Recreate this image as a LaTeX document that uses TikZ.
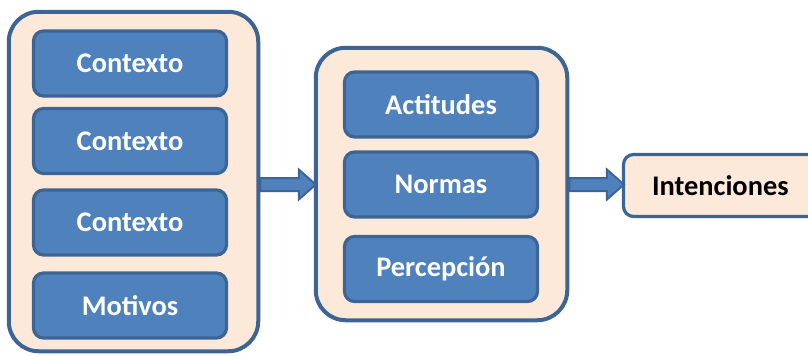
\documentclass[tikz,border=0pt]{standalone}
\usepackage{fontspec}
\setmainfont{Carlito}
\usetikzlibrary{calc}
\definecolor{boxblue}{HTML}{4F81BD}
\definecolor{boxedge}{HTML}{3C6494}
\definecolor{peach}{HTML}{FDE9DA}
\begin{document}
\begin{tikzpicture}[x=0.5pt, y=-0.5pt,
		outer/.style = {draw=boxedge, fill=peach, line width=2pt, rounded corners=15pt},
		inner/.style = {draw=boxedge, fill=boxblue, line width=1.6pt, rounded corners=5pt,
			minimum width=96.5pt, minimum height=32.5pt, text=white,
			font=\fontsize{14.2}{17}\selectfont\bfseries},
		result/.style = {draw=boxedge, fill=peach, line width=1.6pt, rounded corners=5pt,
			minimum width=102.5pt, minimum height=31pt, text=black,
			font=\fontsize{14.2}{17}\selectfont\bfseries},
		blockarrow/.style = {draw=boxedge, fill=boxblue, line width=1pt, line join=miter}]
		\pgfmathsetmacro{\shaft}{6.5}
		\pgfmathsetmacro{\head}{15}
		\pgfmathsetmacro{\headlen}{15}
		\useasboundingbox (0,0) rectangle (808,355);
		
		\node[outer, minimum width=124.75pt, minimum height=169.75pt] (left) at (133.5,181.5) {};
		\node[inner] (ctx1) at (130,63.5) {Contexto};
		\node[inner] (ctx2) at (130,141) {Contexto};
		\node[inner] (ctx3) at (130,222.5) {Contexto};
		\node[inner] (mot) at (130,305.5) {Motivos};
		
		\node[outer, minimum width=125.75pt, minimum height=136.25pt] (mid) at (441.5,184) {};
		\node[inner] (act) at (441,104.5) {Actitudes};
		\node[inner] (norm) at (441,184.5) {Normas};
		\node[inner] (perc) at (441,269) {Percepción};
		
		\node[result, text width=74pt] (int) at (726,185.5) {Intenciones};
		
		\coordinate (a1) at (left.east |- 0,184.5);
		\coordinate (b1) at (mid.west |- 0,184.5);
		\coordinate (a2) at (mid.east |- 0,184.5);
		\coordinate (b2) at (int.west |- 0,184.5);
		\foreach \s/\e in {a1/b1, a2/b2}
			\draw[blockarrow] ($(\s)+(0,-\shaft)$) -- ($(\e)+(-\headlen,-\shaft)$) -- ($(\e)+(-\headlen,-\head)$)
				-- ($(\e)+(2,0)$) -- ($(\e)+(-\headlen,\head)$) -- ($(\e)+(-\headlen,\shaft)$) -- ($(\s)+(0,\shaft)$) -- cycle;
	\end{tikzpicture}
\end{document}
